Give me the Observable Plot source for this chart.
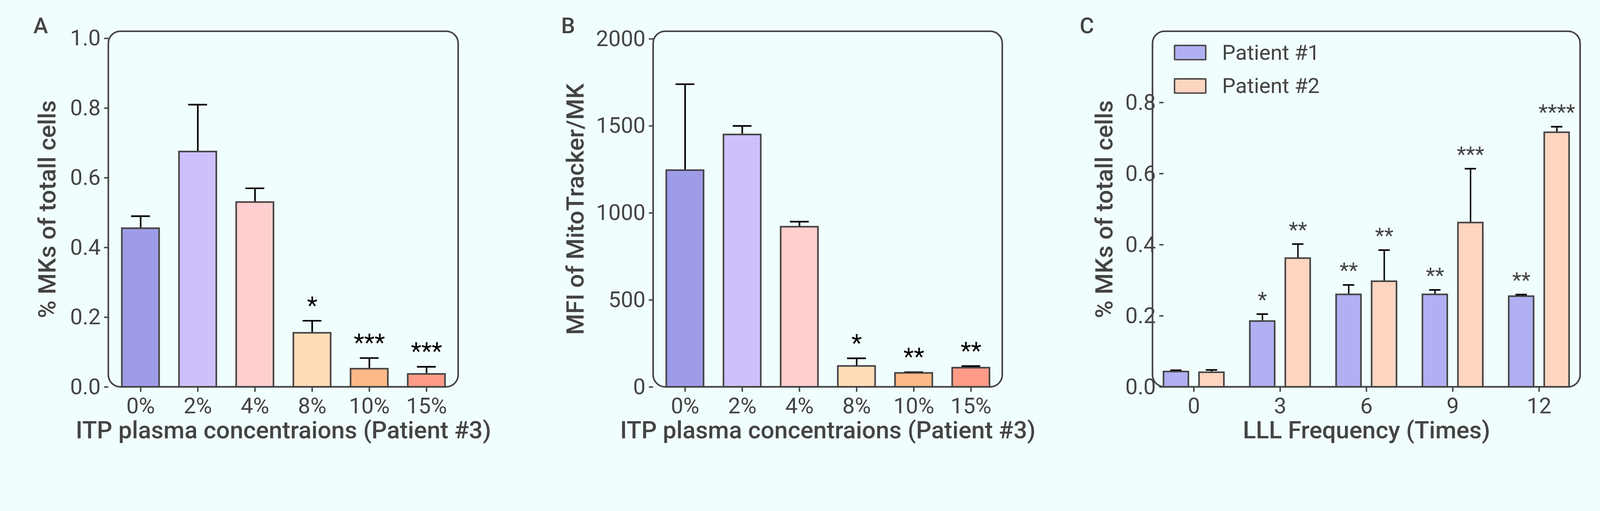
<!DOCTYPE html>
<html><head><meta charset="utf-8">
<script src="https://cdn.jsdelivr.net/npm/d3@7"></script>
<script src="https://cdn.jsdelivr.net/npm/@observablehq/plot@0.6"></script>
<style>
html,body{margin:0;padding:0;background:#f1fefe;overflow:hidden;font-family:Roboto,sans-serif;}
#root{position:relative;width:4505px;height:1308px;transform-origin:0 0;}
.panel{position:absolute;top:0;}
.panel svg{max-width:none !important;overflow:visible;}
.letter{position:absolute;font:500 62px Roboto;color:#444;}
.leg{position:absolute;font:400 60px Roboto;color:#444;display:flex;align-items:center;}
.sw{display:inline-block;width:84px;height:36px;border:4px solid #444;border-radius:3px;margin-right:44px;}
</style></head><body>
<div id="root">
<div class="letter" style="left:94px;top:36px">A</div>
<div class="letter" style="left:1580px;top:36px">B</div>
<div class="letter" style="left:3040px;top:36px">C</div>
<div id="a" class="panel" style="left:0px;width:1330px"></div>
<div id="b" class="panel" style="left:1500px;width:1340px"></div>
<div id="c" class="panel" style="left:3000px;width:1505px"></div>
<div class="leg" style="left:3305px;top:112px"><span class="sw" style="background:#b0b0f2"></span>Patient #1</div>
<div class="leg" style="left:3305px;top:206px"><span class="sw" style="background:#fdd5c0"></span>Patient #2</div>
</div>
<script>
const concs = ["0%","2%","4%","8%","10%","15%"];
const concColors = ["#9e9ce8","#cfc0fd","#ffcfcf","#ffdcb8","#ffb989","#ff9b87"];
const aValues = [0.455,0.675,0.53,0.155,0.052,0.037];
const aErrors = [0.035,0.135,0.04,0.035,0.031,0.021];
const aSig = ["","","","*","***","***"];
const bValues = [1245,1450,920,120,80,110];
const bErrors = [495,50,30,45,5,10];
const bSig = ["","","","*","**","**"];
const freqs = ["0","3","6","9","12"];
const patients = ["Patient #1","Patient #2"];
const patientColors = ["#b0b0f2","#fdd5c0"];
const p1Values = [0.043,0.185,0.26,0.26,0.255];
const p1Errors = [0.004,0.02,0.027,0.013,0.005];
const p1Sig = ["","*","**","**","**"];
const p2Values = [0.041,0.362,0.297,0.462,0.716];
const p2Errors = [0.007,0.04,0.088,0.152,0.016];
const p2Sig = ["","**","**","***","****"];

function fit(){
  const s = Math.min(window.innerWidth/4505, window.innerHeight/1308);
  document.getElementById("root").style.transform = `scale(${s})`;
}
fit(); window.addEventListener("resize", fit);

const INK="#444";
function addFrame(svg, ml, mt, w, h){
  d3.select(svg).append("rect").attr("x",ml).attr("y",mt).attr("width",w).attr("height",h)
    .attr("rx",34).attr("fill","none").attr("stroke",INK).attr("stroke-width",4.5);
}
function styleSvg(svg){
  d3.select(svg).selectAll("[aria-label='y-axis label'] text, [aria-label='x-axis label'] text, [aria-label='fx-axis label'] text")
    .attr("font-size",68).attr("font-weight",500).attr("fill",INK);
  d3.select(svg).selectAll("[aria-label$='tick label'] text").attr("fill",INK);
}
function simplePanel(el, W, ml, mr, yDomain, yTicks, yFmt, values, errors, sig, ylab, labelOffset){
  const data = concs.map((c,i)=>({c, v:values[i], e:errors[i], s:sig[i]}));
  const H=1308, mt=88, mb=219;
  const svg = Plot.plot({
    width:W, height:H, marginLeft:ml, marginRight:mr, marginTop:mt, marginBottom:mb,
    style:{background:"transparent", fontFamily:"Roboto", color:INK},
    x:{domain:concs, padding:0.35, paddingOuter:0.22},
    y:{domain:yDomain},
    color:{domain:concs, range:concColors},
    marks:[
      Plot.ruleX(data,{x:"c", y1:"v", y2:d=>d.v+d.e, stroke:"#000", strokeWidth:4.5}),
      Plot.tickY(data,{x:"c", y:d=>d.v+d.e, stroke:"#000", strokeWidth:4.5, insetLeft:26, insetRight:26}),
      Plot.barY(data,{x:"c", y:"v", fill:"c", stroke:INK, strokeWidth:4.5}),
      Plot.text(data,{x:"c", y:d=>d.v+d.e, text:"s", dy:-42, fontSize:68, fill:"#000"}),
      Plot.axisY({ticks:yTicks, tickFormat:yFmt, tickSize:12, tickPadding:10, fontSize:62, stroke:INK, strokeWidth:4, label:ylab, labelAnchor:"center", labelArrow:"none", labelOffset}),
      Plot.axisX({tickSize:14, tickPadding:16, fontSize:62, stroke:INK, strokeWidth:4, label:"ITP plasma concentraions (Patient #3)", labelAnchor:"center", labelArrow:"none", labelOffset:145})
    ]
  });
  styleSvg(svg);
  addFrame(svg, ml, mt, W-ml-mr, H-mt-mb);
  document.getElementById(el).appendChild(svg);
}
simplePanel("a",1330,305,40,[0,1.02],[0,0.2,0.4,0.6,0.8,1.0],d3.format(".1f"),aValues,aErrors,aSig,"% MKs of totall cells",198);
simplePanel("b",1340,339,18,[0,2043],[0,500,1000,1500,2000],d3.format("d"),bValues,bErrors,bSig,"MFI of MitoTracker/MK",245);

(function(){
  const data=[];
  freqs.forEach((f,i)=>{
    data.push({f, p:patients[0], v:p1Values[i], e:p1Errors[i], s:p1Sig[i]});
    data.push({f, p:patients[1], v:p2Values[i], e:p2Errors[i], s:p2Sig[i]});
  });
  const W=1505,H=1308,ml=245,mr=56,mt=88,mb=219;
  const svg = Plot.plot({
    width:W, height:H, marginLeft:ml, marginRight:mr, marginTop:mt, marginBottom:mb,
    style:{background:"transparent", fontFamily:"Roboto", color:INK},
    fx:{domain:freqs, padding:0.3, paddingOuter:0.12},
    x:{domain:patients, padding:0.3, paddingOuter:0, axis:null},
    y:{domain:[0,1.0]},
    color:{domain:patients, range:patientColors},
    marks:[
      Plot.ruleX(data,{fx:"f", x:"p", y1:"v", y2:d=>d.v+d.e, stroke:"#000", strokeWidth:4}),
      Plot.tickY(data,{fx:"f", x:"p", y:d=>d.v+d.e, stroke:"#000", strokeWidth:4.5, insetLeft:19, insetRight:19}),
      Plot.barY(data,{fx:"f", x:"p", y:"v", fill:"p", stroke:INK, strokeWidth:4.5}),
      Plot.text(data,{fx:"f", x:"p", y:d=>d.v+d.e, text:"s", dy:-40, fontSize:60, fill:INK}),
      Plot.axisY({ticks:[0,0.2,0.4,0.6,0.8], tickFormat:d3.format(".1f"), tickSize:12, tickPadding:10, fontSize:62, stroke:INK, strokeWidth:4, label:"% MKs of totall cells", labelAnchor:"center", labelArrow:"none", labelOffset:192}),
      Plot.axisFx({anchor:"bottom", tickSize:14, tickPadding:16, fontSize:62, stroke:INK, strokeWidth:4, label:"LLL Frequency (Times)", labelAnchor:"center", labelArrow:"none", labelOffset:145})
    ]
  });
  styleSvg(svg);
  addFrame(svg, ml, mt, W-ml-mr, H-mt-mb);
  document.getElementById("c").appendChild(svg);
})();
</script></body></html>
